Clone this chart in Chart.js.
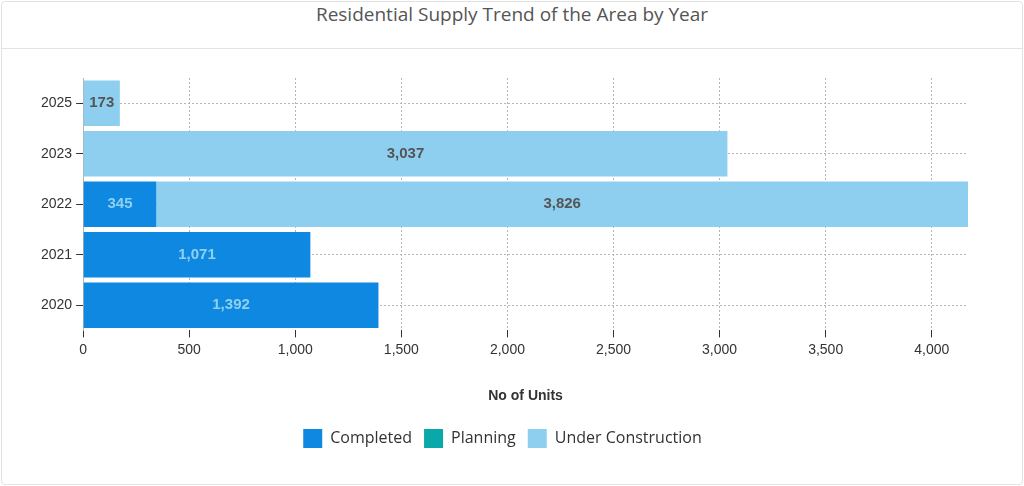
<!DOCTYPE html>
<html>
<head>
<meta charset="utf-8">
<script src="https://cdn.jsdelivr.net/npm/chart.js@4"></script>
<style>
  body { margin: 0; background: #fff; }
  .card { position: absolute; left: 1px; top: 1px; width: 1020px; height: 482px; border: 1px solid #e3e3e3; border-radius: 4px; }
  .header { height: 46px; border-bottom: 1px solid #e3e3e3; text-align: center; font-family: "Open Sans", sans-serif; font-size: 19px; color: #555; line-height: 24px; }
  .chartBox { position: relative; height: 435px; width: 1020px; }
</style>
</head>
<body>
<div class="card">
  <div class="header">Residential Supply Trend of the Area by Year</div>
  <div class="chartBox"><canvas id="supply"></canvas></div>
</div>
<script>
const years = ['2025', '2023', '2022', '2021', '2020'];
const completed = [0, 0, 345, 1071, 1392];
const planning = [0, 0, 0, 0, 0];
const underConstruction = [173, 3037, 3826, 0, 0];
const xTicks = [0, 500, 1000, 1500, 2000, 2500, 3000, 3500, 4000];

const labelColors = ['#8fd0f0', '#ffffff', '#555555'];
const axisFont = '"Liberation Sans", Arial, sans-serif';

// draws the value in the middle of each bar
const barLabels = {
    id: 'barLabels',
    afterDatasetsDraw(chart) {
        const ctx = chart.ctx;
        ctx.save();
        ctx.font = 'bold 15px ' + axisFont;
        ctx.textAlign = 'center';
        ctx.textBaseline = 'middle';
        chart.data.datasets.forEach((ds, i) => {
            const meta = chart.getDatasetMeta(i);
            meta.data.forEach((bar, j) => {
                const v = ds.data[j];
                if (!v) return;
                ctx.fillStyle = labelColors[i];
                ctx.fillText(v.toLocaleString('en-US'), (bar.x + bar.base) / 2, bar.y);
            });
        });
        ctx.restore();
    }
};

const ctx = document.getElementById('supply').getContext('2d');
new Chart(ctx, {
    type: 'bar',
    data: {
        labels: years,
        datasets: [
            { label: 'Completed', data: completed, backgroundColor: '#0e88e0' },
            { label: 'Planning', data: planning, backgroundColor: '#0aa8a8' },
            { label: 'Under Construction', data: underConstruction, backgroundColor: '#8ecfef' }
        ]
    },
    options: {
        indexAxis: 'y',
        responsive: true,
        maintainAspectRatio: false,
        animation: false,
        barPercentage: 0.9,
        categoryPercentage: 1,
        layout: { padding: { top: 29, right: 54, left: 35, bottom: 26 } },
        scales: {
            x: {
                stacked: true,
                min: 0,
                max: 4171,
                afterBuildTicks: axis => { axis.ticks = xTicks.map(v => ({ value: v })); },
                grid: { color: '#b5b5b5', tickColor: '#333', tickLength: 7, tickBorderDash: [] },
                border: { display: false, dash: [2, 2] },
                ticks: { color: '#333', font: { size: 14, family: axisFont }, padding: 4, maxRotation: 0 },
                title: { display: true, text: 'No of Units', color: '#333', font: { size: 14, weight: 'bold', family: axisFont }, padding: { top: 26, bottom: 12 } }
            },
            y: {
                stacked: true,
                grid: { offset: false, color: '#b5b5b5', tickColor: '#333', tickLength: 7, tickBorderDash: [] },
                border: { color: '#b5b5b5', dash: [2, 2] },
                ticks: { color: '#333', font: { size: 14, family: axisFont }, padding: 4 }
            }
        },
        elements: { bar: { borderWidth: 0 } },
        plugins: {
            title: { display: false },
            tooltip: { enabled: false },
            legend: {
                position: 'bottom',
                labels: {
                    boxWidth: 19,
                    boxHeight: 19,
                    padding: 12,
                    color: '#333',
                    font: { size: 16, family: '"Open Sans", sans-serif' }
                }
            }
        }
    },
    plugins: [barLabels]
});
</script>
</body>
</html>
